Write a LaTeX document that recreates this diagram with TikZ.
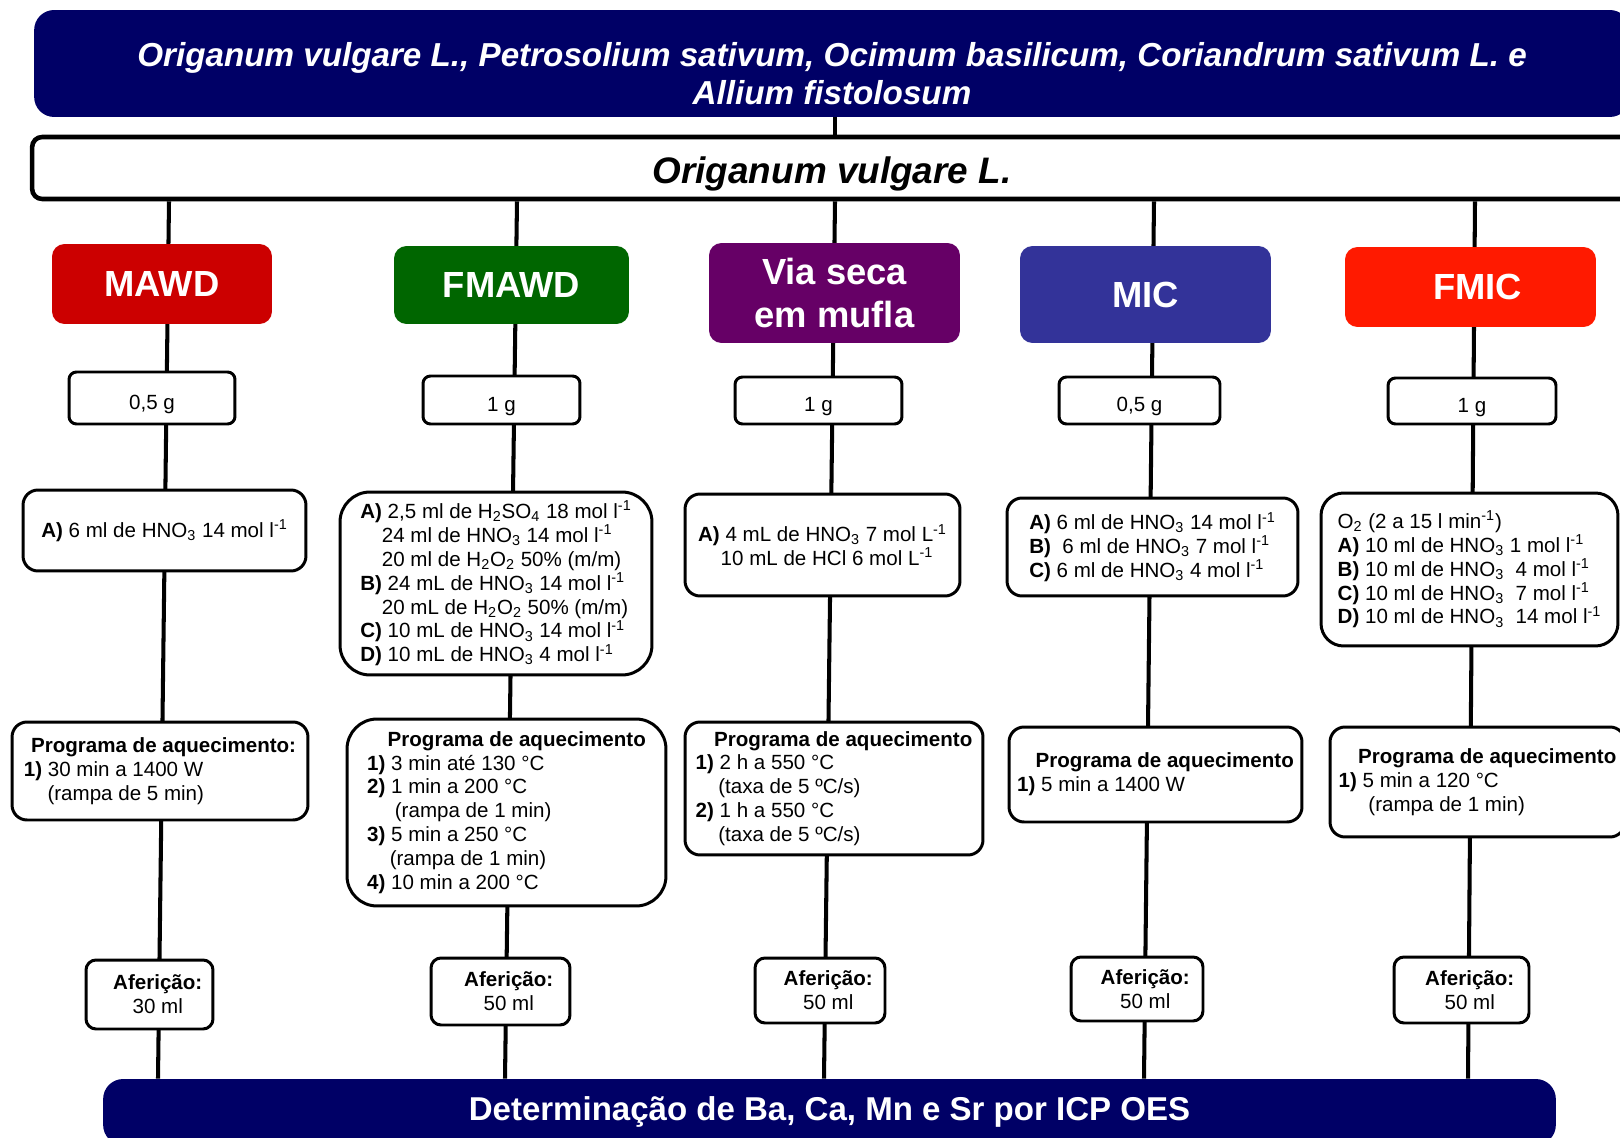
\documentclass[tikz,border=0pt]{standalone}
\usepackage{fontspec}
\setmainfont{Liberation Sans}
\usetikzlibrary{positioning}
\definecolor{azulescuro}{RGB}{0,0,102}
\definecolor{vermelho}{RGB}{204,0,0}
\definecolor{verde}{RGB}{0,102,0}
\definecolor{roxo}{RGB}{102,0,102}
\definecolor{azulmic}{RGB}{51,51,153}
\definecolor{laranja}{RGB}{255,26,0}
\newcommand{\corpo}{\fontsize{11.7}{13.6}\selectfont}
\newcommand{\hno}{HNO\textsubscript{3}}
\newcommand{\recuo}{\hspace*{0.8em}}
\tikzset{
  ligacao/.style={line width=2.3pt},
  caixa/.style={draw=black,line width=1.7pt,fill=white,rounded corners=0.3cm,align=left,inner sep=1pt,font=\corpo},
  metodo/.style={rounded corners=0.25cm,text=white,align=center,inner sep=1pt,font=\fontsize{20.7}{24}\selectfont\bfseries},
  faixa/.style={fill=azulescuro,rounded corners=0.4cm,text=white,align=center}
}
\begin{document}
\begin{tikzpicture}[x=0.02cm,y=-0.02cm]
\clip (0,0) rectangle (1620,1138);
% amostras
\node (especies) [faixa,minimum width=31.92cm,minimum height=2.14cm,font=\fontsize{18.9}{21.6}\selectfont\bfseries\itshape] at (832,63.5) {\rule{0pt}{25pt}Origanum vulgare L., Petrosolium sativum, Ocimum basilicum, Coriandrum sativum L. e\\Allium fistolosum};
\node (origanum) [draw,line width=2.6pt,fill=white,rounded corners=0.2cm,minimum width=32cm,minimum height=1.24cm,font=\fontsize{21}{24}\selectfont\bfseries\itshape] at (832,168) {\rule{0pt}{21.5pt}Origanum vulgare L.};
% determinacao
\node (icp) [faixa,minimum width=29.06cm,minimum height=1.32cm,font=\fontsize{18.8}{21.6}\selectfont\bfseries] at (829.5,1112) {Determinação de Ba, Ca, Mn e Sr por ICP OES};
%
\coordinate (alto1) at (169,0);  \coordinate (fundo1) at (158,0);
\coordinate (alto2) at (517,0);  \coordinate (fundo2) at (505,0);
\coordinate (alto3) at (835,0);  \coordinate (fundo3) at (824,0);
\coordinate (alto4) at (1154,0); \coordinate (fundo4) at (1144,0);
\coordinate (alto5) at (1475,0); \coordinate (fundo5) at (1468,0);
\draw[ligacao] (especies.south -| alto3) -- (origanum.north -| alto3);
\draw[ligacao] (origanum.south -| alto1) -- (icp.north -| fundo1);
\draw[ligacao] (origanum.south -| alto2) -- (icp.north -| fundo2);
\draw[ligacao] (origanum.south -| alto3) -- (icp.north -| fundo3);
\draw[ligacao] (origanum.south -| alto4) -- (icp.north -| fundo4);
\draw[ligacao] (origanum.south -| alto5) -- (icp.north -| fundo5);
% metodos de preparo
\node (mawd) [metodo,fill=vermelho,minimum width=4.4cm,minimum height=1.6cm] at (162,284) {MAWD};
\node (fmawd) [metodo,fill=verde,minimum width=4.7cm,minimum height=1.56cm] at (511.5,285) {FMAWD};
\node (viaseca) [metodo,fill=roxo,minimum width=5.02cm,minimum height=2cm] at (834.5,293) {Via seca\\em mufla};
\node (mic) [metodo,fill=azulmic,minimum width=5.02cm,minimum height=1.94cm] at (1145.5,294.5) {MIC};
\node (fmic) [metodo,fill=laranja,minimum width=5.02cm,minimum height=1.6cm] at (1470.5,287) {\hspace*{0.4em}FMIC};
% massa
\node (massa1) [caixa,rounded corners=0.15cm,align=center,minimum width=3.32cm,minimum height=1.04cm] at (152,398) {\rule{0pt}{15pt}0,5 g};
\node (massa2) [caixa,rounded corners=0.15cm,align=center,minimum width=3.14cm,minimum height=0.96cm] at (501.5,400) {\rule{0pt}{15pt}1 g};
\node (massa3) [caixa,rounded corners=0.15cm,align=center,minimum width=3.34cm,minimum height=0.94cm] at (818.5,400.5) {\rule{0pt}{15pt}1 g};
\node (massa4) [caixa,rounded corners=0.15cm,align=center,minimum width=3.22cm,minimum height=0.94cm] at (1139.5,400.5) {\rule{0pt}{15pt}0,5 g};
\node (massa5) [caixa,rounded corners=0.15cm,align=center,minimum width=3.36cm,minimum height=0.92cm] at (1472,401) {\rule{0pt}{15pt}1 g};
% reagentes
\node (reag1) [caixa,minimum width=5.66cm,minimum height=1.62cm] at (164.5,530.5) {\textbf{A)} 6 ml de \hno{} 14 mol l\textsuperscript{-1}};
\node (reag2) [caixa,rounded corners=0.6cm,minimum width=6.24cm,minimum height=3.66cm] at (496,583.5) {\textbf{A)} 2,5 ml de H\textsubscript{2}SO\textsubscript{4} 18 mol l\textsuperscript{-1}\\
  \hspace*{1.05em}24 ml de \hno{} 14 mol l\textsuperscript{-1}\\
  \hspace*{1.05em}20 ml de H\textsubscript{2}O\textsubscript{2} 50\% (m/m)\\
  \textbf{B)} 24 mL de \hno{} 14 mol l\textsuperscript{-1}\\
  \hspace*{1.05em}20 mL de H\textsubscript{2}O\textsubscript{2} 50\% (m/m)\\
  \textbf{C)} 10 mL de \hno{} 14 mol l\textsuperscript{-1}\\
  \textbf{D)} 10 mL de \hno{} 4 mol l\textsuperscript{-1}};
\node (reag3) [caixa,minimum width=5.5cm,minimum height=2.04cm] at (822.5,545) {\textbf{A)} 4 mL de \hno{} 7 mol L\textsuperscript{-1}\\
  \hspace*{1.1em}10 mL de HCl 6 mol L\textsuperscript{-1}};
\node (reag4) [caixa,minimum width=5.82cm,minimum height=1.96cm] at (1152.5,547) {\textbf{A)} 6 ml de \hno{} 14 mol l\textsuperscript{-1}\\
  \textbf{B)}\ \ 6 ml de \hno{} 7 mol l\textsuperscript{-1}\\
  \textbf{C)} 6 ml de \hno{} 4 mol l\textsuperscript{-1}};
\node (reag5) [caixa,rounded corners=0.45cm,minimum width=5.94cm,minimum height=3.06cm] at (1469.5,569.5) {O\textsubscript{2} (2 a 15 l min\textsuperscript{-1})\\
  \textbf{A)} 10 ml de \hno{} 1 mol l\textsuperscript{-1}\\
  \textbf{B)} 10 ml de \hno\ \ 4 mol l\textsuperscript{-1}\\
  \textbf{C)} 10 ml de \hno\ \ 7 mol l\textsuperscript{-1}\\
  \textbf{D)} 10 ml de \hno\ \ 14 mol l\textsuperscript{-1}};
% programas de aquecimento
\node (prog1) [caixa,minimum width=5.92cm,minimum height=1.96cm] at (160,771) {\hspace*{0.35em}\textbf{Programa de aquecimento:}\\
  \textbf{1)} 30 min a 1400 W\\
  \hspace*{1.15em}(rampa de 5 min)};
\node (prog2) [caixa,rounded corners=0.6cm,minimum width=6.38cm,minimum height=3.74cm] at (506.5,812.5) {\hspace*{1em}\textbf{Programa de aquecimento}\\
  \textbf{1)} 3 min até 130 °C\\
  \textbf{2)} 1 min a 200 °C\\
  \hspace*{1.35em}(rampa de 1 min)\\
  \textbf{3)} 5 min a 250 °C\\
  \hspace*{1.1em}(rampa de 1 min)\\
  \textbf{4)} 10 min a 200 °C};
\node (prog3) [caixa,minimum width=5.96cm,minimum height=2.66cm] at (834,788.5) {\hspace*{0.9em}\textbf{Programa de aquecimento}\\
  \textbf{1)} 2 h a 550 °C\\
  \hspace*{1.1em}(taxa de 5 ºC/s)\\
  \textbf{2)} 1 h a 550 °C\\
  \hspace*{1.1em}(taxa de 5 ºC/s)};
\node (prog4) [caixa,minimum width=5.86cm,minimum height=1.9cm] at (1155.5,774.5) {\hspace*{0.9em}\textbf{Programa de aquecimento}\\
  \textbf{1)} 5 min a 1400 W};
\node (prog5) [caixa,minimum width=5.9cm,minimum height=2.2cm] at (1477.5,782) {\hspace*{0.95em}\textbf{Programa de aquecimento}\\
  \textbf{1)} 5 min a 120 °C\\
  \hspace*{1.45em}(rampa de 1 min)\hspace*{0.8em}};
% afericao
\node (afer1) [caixa,rounded corners=0.2cm,align=center,minimum width=2.54cm,minimum height=1.38cm] at (149.5,994.5) {\recuo\textbf{Aferição:}\\\recuo 30 ml};
\node (afer2) [caixa,rounded corners=0.2cm,align=center,minimum width=2.78cm,minimum height=1.34cm] at (500.5,991.5) {\recuo\textbf{Aferição:}\\\recuo 50 ml};
\node (afer3) [caixa,rounded corners=0.2cm,align=center,minimum width=2.6cm,minimum height=1.3cm] at (820,990.5) {\recuo\textbf{Aferição:}\\\recuo 50 ml};
\node (afer4) [caixa,rounded corners=0.2cm,align=center,minimum width=2.64cm,minimum height=1.28cm] at (1137,989) {\recuo\textbf{Aferição:}\\\recuo 50 ml};
\node (afer5) [caixa,rounded corners=0.2cm,align=center,minimum width=2.7cm,minimum height=1.32cm] at (1461.5,990) {\recuo\textbf{Aferição:}\\\recuo 50 ml};
\end{tikzpicture}
\end{document}
